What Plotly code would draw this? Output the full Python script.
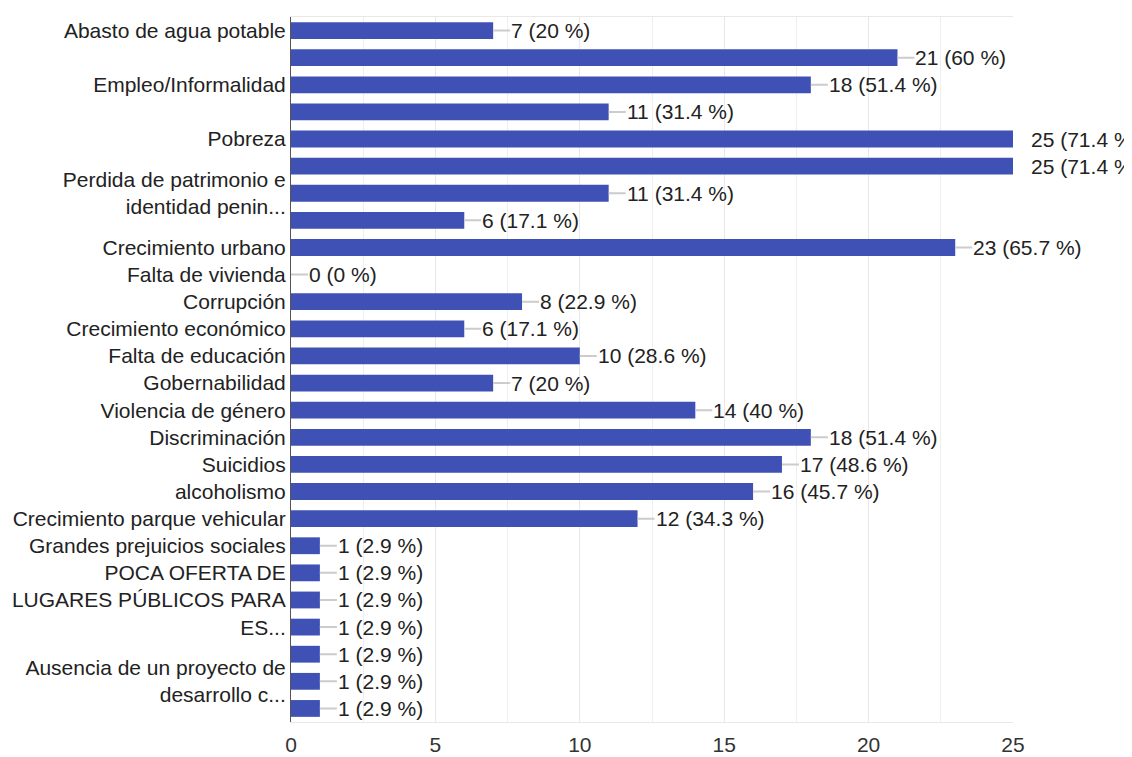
import plotly.graph_objects as go

RESPONDENTS = 35
labels = [
    "Abasto de agua potable", "", "Empleo/Informalidad", "", "Pobreza", "",
    "Perdida de patrimonio e<br>identidad penin...", "", "Crecimiento urbano",
    "Falta de vivienda", "Corrupción", "Crecimiento económico", "Falta de educación",
    "Gobernabilidad", "Violencia de género", "Discriminación", "Suicidios",
    "alcoholismo", "Crecimiento parque vehicular", "Grandes prejuicios sociales",
    "", "POCA OFERTA DE<br>LUGARES PÚBLICOS PARA<br>ES...", "", "",
    "Ausencia de un proyecto de<br>desarrollo c...", "",
]
values = [7, 21, 18, 11, 25, 25, 11, 6, 23, 0, 8, 6, 10, 7, 14, 18, 17, 16, 12,
          1, 1, 1, 1, 1, 1, 1]
x_ticks = [0, 5, 10, 15, 20, 25]

idx = list(range(len(values)))
FONT = "Liberation Sans, Arial, sans-serif"
FS = 21

fig = go.Figure(go.Bar(
    x=values, y=idx, orientation="h",
    marker=dict(color="#3f51b5", line=dict(width=0)),
    hoverinfo="skip",
))

annotations = []
xmax = x_ticks[-1]
for i, v in zip(idx, values):
    pct = round(v / RESPONDENTS * 100, 1)
    txt = f"{v} ({pct:g} %)"
    annotations.append(dict(
        x=v, y=i, xref="x", yref="y", text=txt, showarrow=True,
        ax=17, ay=0, axref="pixel", ayref="pixel", xanchor="left",
        arrowhead=0, arrowwidth=2, standoff=0, startstandoff=0,
        arrowcolor="rgba(0,0,0,0)" if v >= xmax else "#cccccc",
        font=dict(family=FONT, size=FS, color="#222222"),
        borderpad=0,
    ))

fig.update_layout(
    width=1132, height=757,
    margin=dict(l=283, r=127, t=9, b=43),
    paper_bgcolor="white", plot_bgcolor="white",
    bargap=0.38, showlegend=False,
    font=dict(family=FONT, size=FS, color="#222222"),
    annotations=annotations,
    xaxis=dict(
        range=[0, 25], tickvals=x_ticks, showgrid=True, gridcolor="#e8e8e8",
        minor=dict(dtick=2.5, showgrid=True, gridcolor="#eeeeee", tick0=0),
        zeroline=False, showline=True, linecolor="#e8e8e8", mirror=True,
        ticks="", ticklabelstandoff=4,
        tickfont=dict(family=FONT, size=FS, color="#333333"),
        fixedrange=True, automargin=False,
    ),
    yaxis=dict(
        range=[25.5, -0.5], tickvals=idx, ticktext=labels, showgrid=False,
        zeroline=False, showline=True, linecolor="#555555", ticks="",
        ticklabelstandoff=0,
        tickfont=dict(family=FONT, size=FS, color="#222222"),
        fixedrange=True, automargin=False,
    ),
)

fig.write_html("out.html")
